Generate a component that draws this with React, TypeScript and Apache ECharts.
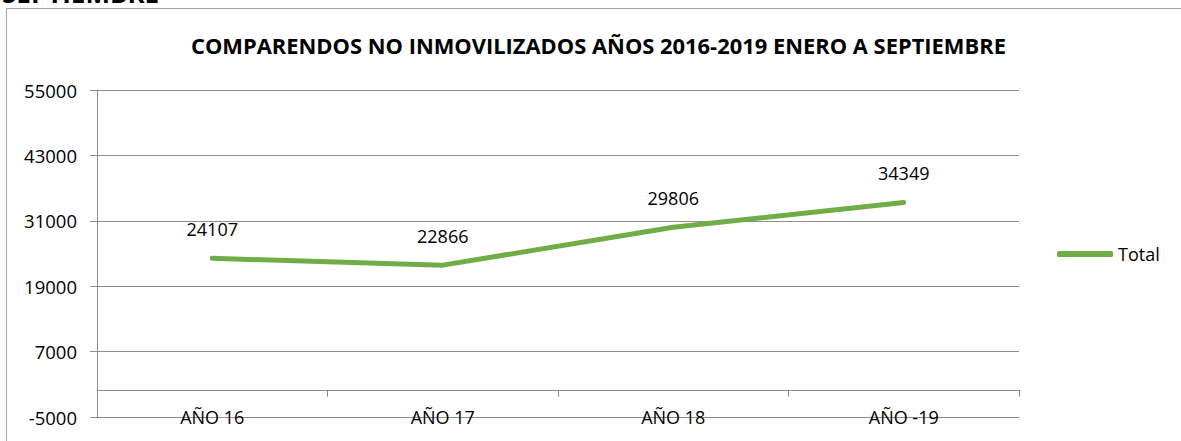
import React, { useEffect, useRef } from "react";
import * as echarts from "echarts";

const categories = ["AÑO 16", "AÑO 17", "AÑO 18", "AÑO -19"];
const totals = [24107, 22866, 29806, 34349];
const seriesName = "Total";
const titleText = "COMPARENDOS NO INMOVILIZADOS AÑOS 2016-2019 ENERO A SEPTIEMBRE";
const headerText = "SEPTIEMBRE";
const yMin = -5000;
const yMax = 55000;
const yStep = 12000;

const FONT = "'Open Sans', sans-serif";
const GRID_COLOR = "#8e8e8e";
const LINE_COLOR = "#70AD47";

export default function App() {
  const ref = useRef<HTMLDivElement>(null);
  useEffect(() => {
    if (!ref.current) return;
    const chart = echarts.init(ref.current, undefined, { renderer: "svg" });
    chart.setOption({
      animation: false,
      backgroundColor: "#ffffff",
      title: {
        text: titleText,
        left: 186,
        top: 29,
        textStyle: { fontFamily: FONT, fontSize: 21.9, fontWeight: "bold", color: "#000" },
      },
      graphic: [
        {
          type: "rect",
          shape: { x: 6.5, y: 8.5, width: 1300, height: 600 },
          style: { fill: "none", stroke: "#a6a6a6", lineWidth: 1 },
          silent: true,
        },
        {
          type: "text",
          x: 2,
          y: -7,
          style: {
            text: headerText,
            font: "bold 26px " + FONT,
            fill: "#000",
            verticalAlign: "middle",
          },
        },
      ],
      legend: {
        data: [seriesName],
        left: 1052,
        top: 240,
        icon: "roundRect",
        itemWidth: 56,
        itemHeight: 6,
        itemGap: 0,
        itemStyle: { color: LINE_COLOR },
        textStyle: { fontFamily: FONT, fontSize: 18, color: "#000" },
      },
      grid: { left: 97, right: 162, top: 90, bottom: 24, outerBoundsMode: "none", containLabel: false },
      xAxis: {
        type: "category",
        data: categories,
        boundaryGap: true,
        axisLine: { show: true, onZero: true, lineStyle: { color: GRID_COLOR, width: 1 } },
        axisTick: { show: true, length: 7, alignWithLabel: false, lineStyle: { color: GRID_COLOR } },
        axisLabel: {
          margin: 0,
          verticalAlign: "middle",
          fontFamily: FONT,
          fontSize: 18,
          color: "#000",
        },
        splitLine: { show: false },
      },
      yAxis: {
        type: "value",
        min: yMin,
        max: yMax,
        interval: yStep,
        axisLine: { show: true, lineStyle: { color: GRID_COLOR, width: 1 } },
        axisTick: { show: true, length: 7, lineStyle: { color: GRID_COLOR } },
        axisLabel: {
          margin: 20,
          fontFamily: FONT,
          fontSize: 18.5,
          color: "#000",
          formatter: (v: number) => String(v),
        },
        splitLine: { show: true, lineStyle: { color: GRID_COLOR, width: 1 } },
      },
      series: [
        {
          name: seriesName,
          type: "line",
          data: totals,
          symbol: "circle",
          symbolSize: 1,
          showSymbol: true,
          lineStyle: { color: LINE_COLOR, width: 5, cap: "round", join: "round" },
          itemStyle: { color: LINE_COLOR },
          label: {
            show: true,
            position: "top",
            distance: 20,
            fontFamily: FONT,
            fontSize: 18,
            color: "#000",
            formatter: (p: any) => String(p.value),
          },
        },
      ],
    });
    return () => chart.dispose();
  }, []);
  return (
    <div
      ref={ref}
      style={{ position: "fixed", left: 0, top: 0, width: 1181, height: 441 }}
    />
  );
}
